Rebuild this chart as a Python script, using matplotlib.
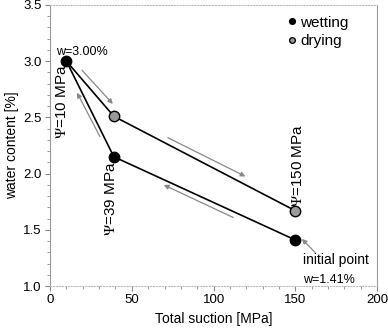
import matplotlib
matplotlib.use("Agg")
import matplotlib.pyplot as plt
from matplotlib.ticker import MultipleLocator

plt.rcParams['font.family'] = ['Liberation Sans', 'DejaVu Sans']
plt.rcParams['mathtext.fontset'] = 'stix'

# data
path_suction = [150, 39, 10, 39, 150]
path_water = [1.41, 2.15, 3.00, 2.51, 1.67]
wet_suction = [150, 39, 10]
wet_water = [1.41, 2.15, 3.00]
dry_suction = [39, 150]
dry_water = [2.51, 1.67]
psi_labels = [r'$\Psi$=10 MPa', r'$\Psi$=39 MPa', r'$\Psi$=150 MPa']
psi_pos = [(7.3, 2.64), (37.3, 1.78), (151.4, 2.07)]
arrows = [((19.5, 2.92), (38.4, 2.62)),
          ((72, 2.32), (119.5, 1.975)),
          ((112, 1.61), (69.5, 1.90)),
          ((30.5, 2.33), (16.5, 2.72)),
          ((162, 1.30), (154, 1.42))]

fig = plt.figure(figsize=(3.88, 3.30), dpi=100)
ax = fig.add_axes([0.129, 0.133, 0.843, 0.852])

ax.plot(path_suction, path_water, color='black', lw=1.2, zorder=2)
ax.plot(wet_suction, wet_water, 'o', color='black', mec='black', ms=7.5, zorder=3, label='wetting')
ax.plot(dry_suction, dry_water, 'o', color='#999999', mec='black', mew=1.0, ms=7.5, zorder=3, label='drying')

for (x0, y0), (x1, y1) in arrows:
    ax.annotate('', xy=(x1, y1), xytext=(x0, y0),
                arrowprops=dict(arrowstyle='-|>', color='#888888', lw=0.9,
                                mutation_scale=7, shrinkA=0, shrinkB=0))

for lab, (x, y) in zip(psi_labels, psi_pos):
    ax.text(x, y, lab, rotation=90, ha='center', va='center', fontsize=11)

ax.text(19.6, 3.08, 'w=3.00%', ha='center', va='center', fontsize=9)
ax.text(154.7, 1.23, 'initial point', ha='left', va='center', fontsize=10)
ax.text(154.7, 1.05, 'w=1.41%', ha='left', va='center', fontsize=9)

leg = ax.legend(loc='upper right', bbox_to_anchor=(0.945, 1.0), frameon=False,
                markerscale=0.55, handlelength=0.4, handletextpad=0.3,
                labelspacing=0.3, fontsize=11, borderaxespad=0.3)

ax.set_xlim(0, 200)
ax.set_ylim(1.0, 3.5)
ax.xaxis.set_major_locator(MultipleLocator(50))
ax.xaxis.set_minor_locator(MultipleLocator(10))
ax.yaxis.set_major_locator(MultipleLocator(0.5))
ax.yaxis.set_minor_locator(MultipleLocator(0.1))
ax.yaxis.set_major_formatter(plt.FormatStrFormatter('%.1f'))
ax.tick_params(which='both', direction='out', color='#888888', labelsize=9.5, pad=2.5)
ax.tick_params(which='major', length=3.5)
ax.tick_params(which='minor', length=2)

for s in ['left', 'right']:
    ax.spines[s].set_color('#999999')
for s in ['top', 'bottom']:
    ax.spines[s].set_color('#bbbbbb')
    ax.spines[s].set_linestyle(':')

ax.set_xlabel('Total suction [MPa]', fontsize=10, labelpad=4)
ax.set_ylabel('water content [%]', fontsize=10, labelpad=3)

fig.savefig('out.png', dpi=100)
